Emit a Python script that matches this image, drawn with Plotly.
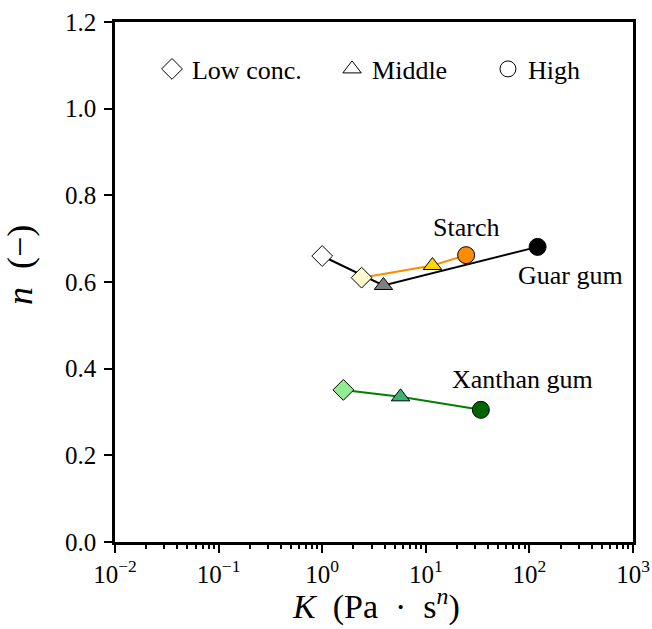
import numpy as np
import plotly.graph_objects as go

# Data (K in Pa·s^n, n dimensionless); order: low, middle, high concentration
guar_K = [1.0, 3.9, 120.0]
guar_n = [0.660, 0.592, 0.681]
starch_K = [2.4, 11.6, 24.5]
starch_n = [0.610, 0.638, 0.662]
xanthan_K = [1.6, 5.7, 34.0]
xanthan_n = [0.351, 0.335, 0.305]

symbols = ["diamond", "triangle-up", "circle"]
conc_labels = ["Low conc.", "Middle", "High"]
x_tick_vals = [1e-2, 1e-1, 1e0, 1e1, 1e2, 1e3]
x_tick_text = ["10<sup>−2</sup>", "10<sup>−1</sup>", "10<sup>0</sup>",
               "10<sup>1</sup>", "10<sup>2</sup>", "10<sup>3</sup>"]
y_tick_vals = [0.0, 0.2, 0.4, 0.6, 0.8, 1.0, 1.2]

series = [
    ("Guar gum", guar_K, guar_n, "black", ["white", "gray", "black"]),
    ("Starch", starch_K, starch_n, "darkorange", ["#fffacd", "gold", "darkorange"]),
    ("Xanthan gum", xanthan_K, xanthan_n, "green", ["lightgreen", "mediumseagreen", "darkgreen"]),
]

FONT = "Liberation Serif, Times New Roman, serif"
NB = "\u00a0"

fig = go.Figure()
for name, K, n, lc, fills in series:
    fig.add_trace(go.Scatter(x=K, y=n, mode="lines", line=dict(color=lc, width=2),
                             showlegend=False, hoverinfo="skip"))
    fig.add_trace(go.Scatter(x=K, y=n, mode="markers", showlegend=False, name=name,
                             marker=dict(symbol=symbols, size=[16, 16, 17], color=fills,
                                         opacity=1, line=dict(color="black", width=1))))

# Legend entries (open symbols), one legend each for exact placement
legend_x = [0.0714, 0.419, 0.720]
legend_names = ["legend", "legend2", "legend3"]
for sym, lab, lg in zip(symbols, conc_labels, legend_names):
    fig.add_trace(go.Scatter(x=[None], y=[None], mode="markers", name=lab, legend=lg,
                             marker=dict(symbol=sym + "-open", size=16, color="black",
                                         line=dict(width=1))))

# Series labels
ann_font = dict(family=FONT, size=26, color="black")
fig.add_annotation(x=1.388, y=0.725, text="Starch", showarrow=False, font=ann_font)
fig.add_annotation(x=2.392, y=0.614, text="Guar gum", showarrow=False, font=ann_font)
fig.add_annotation(x=1.929, y=0.374, text="Xanthan gum", showarrow=False, font=ann_font)

# Axis titles
title_font = dict(family=FONT, size=34, color="black")
fig.add_annotation(xref="paper", yref="paper", x=0.504, y=-0.121,
                   text=f"<i>K</i>{NB}{NB}(Pa{NB}{NB}·{NB}{NB}s<sup><i>n</i></sup>)",
                   showarrow=False, font=title_font, xanchor="center", yanchor="middle")
fig.add_annotation(xref="paper", yref="paper", x=-0.183, y=0.533,
                   text=f"<i>n</i>{NB}{NB}(−)", textangle=-90,
                   showarrow=False, font=dict(family=FONT, size=36, color="black"),
                   xanchor="center", yanchor="middle")

minor_vals = [m * 10.0 ** e for e in range(-2, 3) for m in range(2, 10)]

fig.update_xaxes(type="log", range=[-2, 3], tickvals=x_tick_vals, ticktext=x_tick_text,
                 ticks="outside", ticklen=8, tickwidth=2, tickcolor="black",
                 showline=True, linecolor="black", linewidth=2.5, mirror=True,
                 showgrid=False, zeroline=False,
                 minor=dict(tickvals=minor_vals, ticks="outside", ticklen=4.5, tickwidth=1.5,
                            tickcolor="black", showgrid=False),
                 tickfont=dict(family=FONT, size=25, color="black"))
fig.update_yaxes(range=[0, 1.2], tickvals=y_tick_vals, tickformat=".1f",
                 ticks="outside", ticklen=8, tickwidth=2, tickcolor="black",
                 showline=True, linecolor="black", linewidth=2.5, mirror=True,
                 showgrid=False, zeroline=False, ticklabelstandoff=3,
                 tickfont=dict(family=FONT, size=25, color="black"))

leg_common = dict(orientation="h", y=0.9096, yanchor="middle", xanchor="left",
                  font=dict(family=FONT, size=26, color="black"),
                  bgcolor="rgba(0,0,0,0)", itemwidth=30)
fig.update_layout(
    width=652, height=629,
    margin=dict(l=115, r=19, t=22, b=87, autoexpand=False),
    paper_bgcolor="white", plot_bgcolor="white",
    legend=dict(x=legend_x[0], **leg_common),
    legend2=dict(x=legend_x[1], **leg_common),
    legend3=dict(x=legend_x[2], **leg_common),
)

fig.write_html("out.html", config={"displayModeBar": False},
               post_script="document.body.style.margin='0';")
